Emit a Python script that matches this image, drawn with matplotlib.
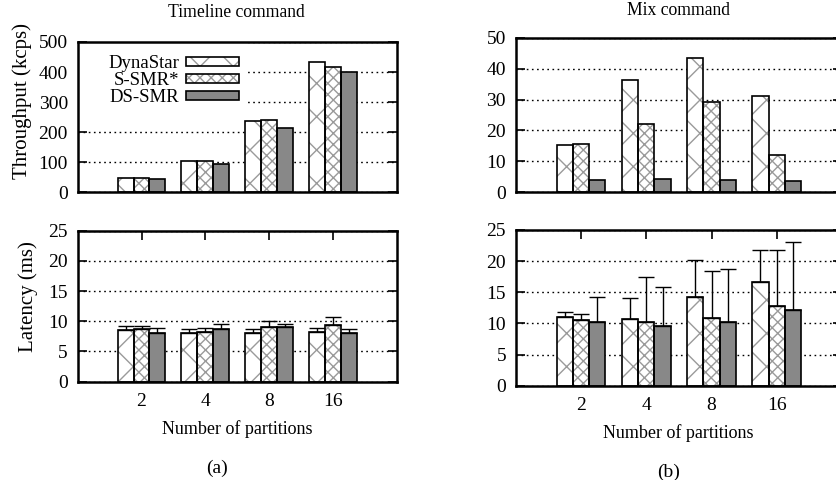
import numpy as np
import matplotlib
matplotlib.use("Agg")
import matplotlib.pyplot as plt
from matplotlib.patches import Patch, Rectangle

plt.rcParams['font.family'] = ['Liberation Serif', 'DejaVu Serif']
plt.rcParams['hatch.linewidth'] = 1.0

# Data
partitions = ["2", "4", "8", "16"]
systems = ["DynaStar", "S-SMR*", "DS-SMR"]

# Timeline command: throughput (kcps), latency (ms) and upper error value
timeline_tput_dynastar = [47, 105, 238, 434]
timeline_tput_ssmr = [47, 105, 240, 417]
timeline_tput_dssmr = [45, 93, 213, 400]
timeline_lat_dynastar = [8.5, 8.1, 8.1, 8.3]
timeline_lat_ssmr = [8.65, 8.15, 9.0, 9.4]
timeline_lat_dssmr = [8.1, 8.75, 9.0, 8.1]
timeline_err_dynastar = [0.7, 0.55, 0.65, 0.6]
timeline_err_ssmr = [0.65, 0.75, 1.1, 1.3]
timeline_err_dssmr = [0.8, 0.85, 0.6, 0.65]

# Mix command
mix_tput_dynastar = [15.3, 36.3, 43.3, 31.0]
mix_tput_ssmr = [15.7, 22.2, 29.2, 12.1]
mix_tput_dssmr = [4.1, 4.4, 4.0, 3.8]
mix_lat_dynastar = [10.95, 10.7, 14.3, 16.7]
mix_lat_ssmr = [10.5, 10.3, 10.85, 12.8]
mix_lat_dssmr = [10.15, 9.55, 10.15, 12.1]
mix_err_dynastar = [0.9, 3.4, 5.85, 5.1]
mix_err_ssmr = [1.0, 7.1, 7.6, 9.0]
mix_err_dssmr = [4.1, 6.35, 8.55, 10.9]

HATCHES = ['x', 'xxx', None]
FILLS = ['white', 'white', '#888888']
WIDTH = 0.25
OFFSETS = [-WIDTH, 0.0, WIDTH]


def draw_bars(ax, series, errs=None):
    x = np.arange(1, len(partitions) + 1)
    for k, vals in enumerate(series):
        pos = x + OFFSETS[k]
        if HATCHES[k]:
            ax.bar(pos, vals, WIDTH, color=FILLS[k], edgecolor='#9a9a9a',
                   hatch=HATCHES[k], linewidth=0, zorder=2)
        else:
            ax.bar(pos, vals, WIDTH, color=FILLS[k], linewidth=0, zorder=2)
        ax.bar(pos, vals, WIDTH, fill=False, edgecolor='black',
               linewidth=1.2, zorder=3)
        if errs is not None:
            ax.errorbar(pos, vals, yerr=[np.zeros(len(vals)), errs[k]],
                        fmt='none', ecolor='black', elinewidth=1.0,
                        capsize=6, capthick=1.0, zorder=4)
    ax.set_xlim(0, 5)
    ax.set_xticks(x)


def style_axes(ax, ymax, ystep, bottom_row):
    ax.set_ylim(0, ymax)
    ax.set_yticks(np.arange(0, ymax + 1e-9, ystep))
    ax.yaxis.grid(True, linestyle=(0, (1.2, 2.5)), color='black',
                  linewidth=1.0, zorder=0)
    ax.set_axisbelow(True)
    for sp in ax.spines.values():
        sp.set_linewidth(1.8)
    ax.tick_params(axis='y', direction='in', length=6.5, width=1.2,
                   left=True, right=True, labelsize=14, pad=7)
    if bottom_row:
        ax.set_xticklabels(partitions)
        ax.tick_params(axis='x', direction='in', length=6.5, width=1.2,
                       bottom=False, top=True, labelbottom=True,
                       labelsize=14, pad=8)
    else:
        ax.tick_params(axis='x', bottom=False, top=False, labelbottom=False)


fig = plt.figure(figsize=(8.36, 4.8), dpi=100)

ax_a1 = fig.add_axes([0.0929, 0.5994, 0.3819, 0.3131])
ax_a2 = fig.add_axes([0.0929, 0.2048, 0.3819, 0.3146])
ax_b1 = fig.add_axes([0.6169, 0.5994, 0.3903, 0.3221])
ax_b2 = fig.add_axes([0.6169, 0.1965, 0.3903, 0.3244])

draw_bars(ax_a1, [timeline_tput_dynastar, timeline_tput_ssmr, timeline_tput_dssmr])
style_axes(ax_a1, 500, 100, False)

draw_bars(ax_a2, [timeline_lat_dynastar, timeline_lat_ssmr, timeline_lat_dssmr],
          [timeline_err_dynastar, timeline_err_ssmr, timeline_err_dssmr])
style_axes(ax_a2, 25, 5, True)

draw_bars(ax_b1, [mix_tput_dynastar, mix_tput_ssmr, mix_tput_dssmr])
style_axes(ax_b1, 50, 10, False)

draw_bars(ax_b2, [mix_lat_dynastar, mix_lat_ssmr, mix_lat_dssmr],
          [mix_err_dynastar, mix_err_ssmr, mix_err_dssmr])
style_axes(ax_b2, 25, 5, True)

# white area behind the key, covering the grid from the left spine
ax_a1.add_patch(Rectangle((0.0, 0.57), 0.533, 0.43, transform=ax_a1.transAxes,
                          facecolor='white', edgecolor='none', zorder=1))

# legend: label on the left, swatch on the right
handles = []
for k in range(3):
    if HATCHES[k]:
        base = Patch(facecolor=FILLS[k], edgecolor='#9a9a9a', hatch=HATCHES[k], linewidth=0)
    else:
        base = Patch(facecolor=FILLS[k], linewidth=0)
    handles.append((base, Patch(fill=False, edgecolor='black', linewidth=1.2)))
leg = ax_a1.legend(handles, systems, loc='upper right', bbox_to_anchor=(0.546, 1.0),
                   markerfirst=False, fontsize=13.5, handlelength=2.8,
                   handleheight=0.4, labelspacing=0.0, handletextpad=0.4,
                   borderaxespad=0.3, frameon=False, borderpad=0.4)
leg.set_zorder(5)

fig.text(0.2823, 0.973, "Timeline command", ha='center', va='center', fontsize=12.7)
fig.text(0.812, 0.978, "Mix command", ha='center', va='center', fontsize=12.7)
fig.text(0.026, 0.79, "Throughput (kcps)", rotation=90, ha='center', va='center', fontsize=15)
fig.text(0.0335, 0.382, "Latency (ms)", rotation=90, ha='center', va='center', fontsize=15)
fig.text(0.2835, 0.106, "Number of partitions", ha='center', va='center', fontsize=13)
fig.text(0.811, 0.098, "Number of partitions", ha='center', va='center', fontsize=13)
fig.text(0.259, 0.025, "(a)", ha='center', va='center', fontsize=14)
fig.text(0.7995, 0.015, "(b)", ha='center', va='center', fontsize=14)

fig.savefig("out.png", dpi=100)
